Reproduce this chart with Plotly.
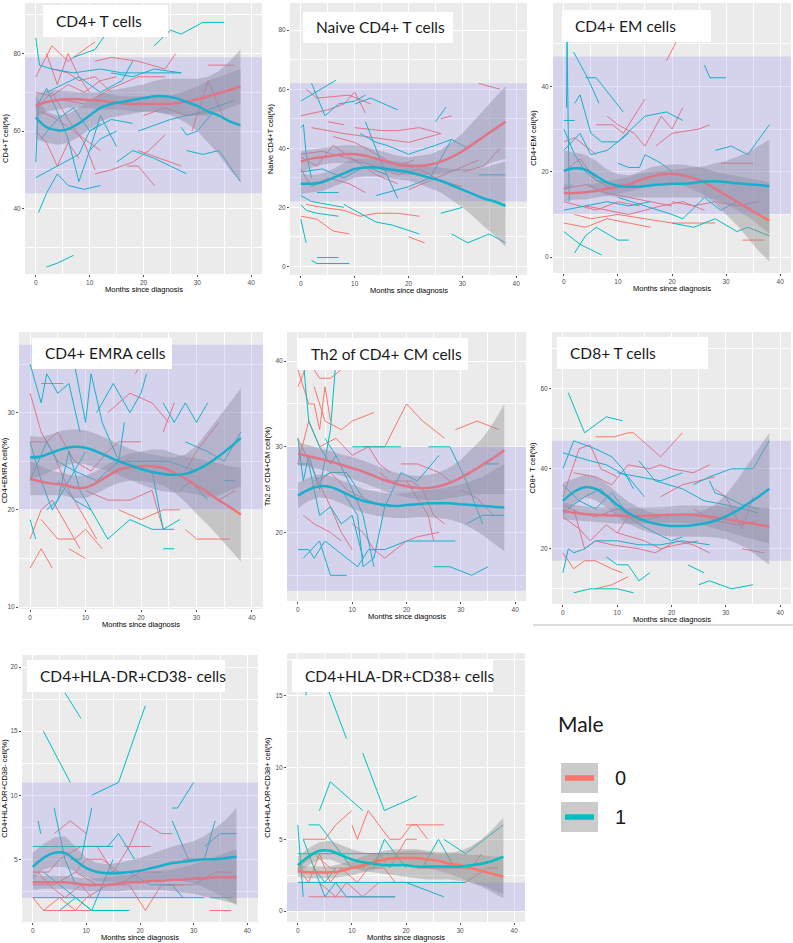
import plotly.graph_objects as go

RED = "#F8766D"
TEAL = "#00BFC4"
W, H = 793, 943

# months used for the smoothed (loess) curves
months_fit = [0, 2, 4, 6, 8, 10, 12, 14, 16, 18, 20, 22, 24, 26, 28, 30, 32, 34, 36, 38]

# ---------------- CD4+ T cells ----------------
cd4t_m0 = [
    [[0, 74], [3, 82], [6, 78], [8, 80], [11, 83]],
    [[2, 80], [4, 72], [6, 80], [8, 74], [10, 70]],
    [[11, 78], [14, 79], [19, 78], [24, 76], [26, 80]],
    [[32, 77], [37, 77]],
    [[0, 66], [3, 70], [6, 63], [9, 57], [11, 50]],
    [[11, 49], [14, 50], [18, 52], [21, 55], [24, 59]],
    [[17, 51], [19, 51], [22, 46]],
    [[19, 55], [23, 53], [27, 51]],
    [[29, 60], [32, 73], [35, 63]],
    [[0, 60], [2, 57], [4, 51], [6, 57], [8, 53]],
    [[5, 68], [9, 67], [14, 71], [19, 74], [24, 74]],
    [[1, 65], [4, 63], [7, 60], [9, 58], [12, 55]],
    [[0, 70], [3, 69], [6, 72], [9, 70], [12, 73], [15, 74]],
    [[20, 64], [24, 66], [28, 64], [33, 65]],
    [[3, 76], [6, 75], [8, 73], [11, 74], [14, 70]],
]
cd4t_m1 = [
    [[0, 84], [0.7, 77], [3, 76], [7, 75], [12, 76], [16, 75], [21, 75], [27, 75]],
    [[22, 82], [25, 86], [27, 85], [31, 88], [35, 88]],
    [[7, 79], [11, 81], [13, 85], [15, 88]],
    [[0, 48], [4, 51], [8, 54], [10, 60], [12, 62]],
    [[0.5, 39], [2, 44], [4, 49], [6, 46], [9, 45], [12, 46]],
    [[2, 25], [4, 26], [7, 28]],
    [[0, 52], [0.5, 67], [2, 71], [4, 65], [6, 58], [8, 47], [10, 55], [12, 64], [15, 56]],
    [[15, 52], [18, 55], [22, 53], [28, 49]],
    [[19, 60], [25, 63], [31, 65], [37, 68]],
    [[27, 61], [28, 59], [30, 60], [33, 65]],
    [[28, 55], [31, 54], [34, 55], [38, 47]],
    [[14, 75], [18, 74], [22, 76], [27, 75]],
    [[1, 58], [4, 63], [7, 66], [10, 60], [14, 63], [18, 62]],
    [[2, 70], [5, 72], [8, 74], [12, 70], [16, 73], [18, 78]],
    [[10, 55], [12, 58], [15, 60]],
]
cd4t_fit0 = [66.5, 67.5, 68, 68.2, 68.2, 68, 67.8, 67.5, 67.2, 67, 67, 67, 67, 67.2, 67.6, 68.2, 69, 69.8, 70.6, 71.5]
cd4t_lo0 = [63.5, 65, 65.5, 66, 66, 66, 65.5, 65.5, 65.5, 65, 65, 65, 64.5, 64.5, 64, 64, 64, 65, 66, 67]
cd4t_hi0 = [69.5, 70.5, 70.5, 70.3, 70, 70, 70, 69.5, 69, 69, 69, 69, 69, 69.5, 70.5, 71.5, 73, 74, 75, 76]
cd4t_fit1 = [63.5, 61, 60.2, 60.5, 62, 64, 66, 67, 67.5, 68, 68.5, 69, 69, 68.5, 67.5, 66.5, 65, 64, 62.5, 61.5]
cd4t_lo1 = [58, 57, 56.5, 57, 58.5, 60.5, 62.5, 63.5, 64, 64.5, 65, 65, 64.5, 63.5, 62, 60, 57, 54, 50, 47]
cd4t_hi1 = [69, 65, 64, 64.5, 66, 67.5, 69.5, 70.5, 71, 71.5, 72, 73, 73.5, 73.5, 73.5, 73.5, 74, 75.5, 78, 81]

# ---------------- Naive CD4+ T cells ----------------
naive_m0 = [
    [[0, 51], [5, 53], [8, 55], [10, 59], [12, 52]],
    [[1, 60], [3, 57], [9, 58], [13, 55]],
    [[2, 47], [5, 46], [8, 45], [12, 44], [20, 42], [26, 45]],
    [[5, 49], [8, 48]],
    [[10, 47], [15, 46], [18, 46], [22, 47], [26, 45]],
    [[26, 50], [28, 51]],
    [[33, 62], [37, 60]],
    [[0, 37], [3, 34], [6, 41], [10, 36], [14, 31], [18, 28]],
    [[0, 38], [4, 39], [8, 37], [12, 35], [18, 31], [22, 33], [26, 29], [30, 27]],
    [[0, 33], [2, 27], [5, 30], [9, 28], [12, 25]],
    [[0, 17], [3, 16], [6, 12], [9, 11]],
    [[1, 21], [4, 20], [8, 19], [11, 17], [14, 18], [18, 18], [22, 17]],
    [[20, 10], [23, 8]],
    [[30, 32], [34, 34], [37, 40]],
    [[20, 26], [24, 29], [28, 32], [33, 36]],
    [[6, 44], [10, 42], [14, 38], [18, 34], [21, 36]],
]
naive_m1 = [
    [[0, 56], [6.5, 63]],
    [[2, 62], [4.5, 51], [7, 55], [10, 56], [12, 58]],
    [[10, 55], [13, 57], [18, 53]],
    [[0, 47], [0.5, 48], [1, 38], [2, 30]],
    [[11, 45], [14, 42], [16, 41], [20, 38], [25, 41], [28, 43], [31, 40]],
    [[12, 49], [15, 35], [18, 23]],
    [[25, 49], [27, 54]],
    [[3, 25], [7, 25]],
    [[0, 24], [2, 22], [5, 21], [8, 20]],
    [[0, 21], [1, 19], [3, 18], [7, 17]],
    [[0, 16], [1, 8]],
    [[8, 21], [11, 18], [14, 15], [17, 14], [22, 11]],
    [[2, 2], [3, 1], [9, 1]],
    [[3, 3], [7, 3]],
    [[28, 11], [31, 8], [35, 11], [38, 8]],
    [[26, 18], [28, 19], [30, 20]],
    [[33, 31], [38, 31]],
    [[14, 24], [20, 27], [24, 30], [28, 43]],
    [[0, 32], [4, 33], [8, 30], [12, 34], [16, 31]],
]
naive_fit0 = [35.5, 36.5, 37, 37.5, 38, 38, 37.5, 36.5, 35.5, 34.5, 34, 34, 34.5, 35.5, 37, 39, 41.5, 44, 46.5, 49]
naive_lo0 = [32, 33.5, 34.5, 35, 35, 35, 34.5, 33.5, 32.5, 31.5, 31, 31, 31, 31.5, 32, 32.5, 33, 34, 35.5, 36.5]
naive_hi0 = [39, 39.5, 40, 40.5, 41, 41, 40.5, 39.5, 38.5, 37.5, 37, 37.5, 38, 39.5, 42, 45, 49, 53, 57, 61]
naive_fit1 = [28, 28, 28.5, 30, 31.5, 33, 33.5, 33.5, 33, 32.5, 32, 31, 30, 29, 27.5, 26, 24.5, 23, 22, 20.5]
naive_lo1 = [24.5, 25, 25.5, 27, 28.5, 30, 30.5, 30.5, 30, 29.5, 29, 28, 26.5, 25, 22.5, 20, 17, 13.5, 10.5, 6.5]
naive_hi1 = [31.5, 31, 31.5, 33, 35, 36.5, 36.5, 36.5, 36, 35.5, 35, 34.5, 34, 33.5, 33, 33, 33, 33.5, 34.5, 35.5]

# ---------------- CD4+ EM cells ----------------
em_m0 = [
    [[19, 46], [21, 51]],
    [[0, 27], [2, 28], [4, 26], [6, 24]],
    [[6, 31], [9, 31], [11, 29], [13, 33], [15, 37]],
    [[8, 33], [10, 31], [13, 29], [15, 26], [18, 33], [20, 30], [22, 35]],
    [[17, 26], [20, 29], [25, 30], [27, 31]],
    [[29, 22], [35, 22]],
    [[0, 16], [4, 17], [8, 15], [12, 14], [16, 13], [20, 12]],
    [[0, 8], [4, 7], [8, 9], [12, 8], [16, 7]],
    [[2, 10], [5, 9], [10, 10], [15, 9], [20, 8], [25, 8], [28, 8]],
    [[0, 13], [3, 12], [6, 11], [10, 13], [14, 12]],
    [[33, 4], [37, 4]],
    [[20, 13], [24, 12], [28, 13], [32, 12], [36, 13]],
    [[0, 20], [3, 23], [6, 18], [9, 16], [13, 17]],
    [[4, 12], [8, 11], [12, 10], [18, 12], [22, 13], [26, 11]],
]
em_m1 = [
    [[0.5, 35], [0.6, 51], [1, 13]],
    [[1.8, 48], [4.4, 42], [6.5, 36]],
    [[4, 42], [6, 42], [11, 34]],
    [[0, 32], [2, 32]],
    [[2, 36], [3, 38], [5, 29], [7, 27], [10, 27], [15, 33], [19, 34], [22, 32]],
    [[26, 45], [27, 42], [30, 42]],
    [[28, 25], [31, 26], [34, 24], [38, 31]],
    [[0, 30], [2, 24], [4, 20], [6, 18], [9, 17]],
    [[10, 22], [12, 21], [14, 21], [15, 24], [18, 22], [20, 20]],
    [[0, 6], [3, 3], [7, 0.5]],
    [[2, 1], [4, 5], [6, 7], [10, 4], [12, 4]],
    [[0, 11], [4, 12], [8, 13], [12, 12], [16, 13]],
    [[10, 14], [15, 12], [20, 10], [22, 9], [26, 14], [29, 11], [32, 13]],
    [[20, 8], [24, 7], [28, 9], [32, 6], [34, 7], [38, 5]],
    [[0, 25], [3, 29], [5, 24], [8, 25], [12, 29]],
]
em_fit0 = [15, 15, 15.2, 15.5, 16, 16.5, 17, 18, 18.8, 19.4, 19.5, 19.2, 18.5, 17.5, 16, 14.5, 13, 11.5, 10, 8.5]
em_lo0 = [13, 13.5, 13.5, 14, 14.3, 14.8, 15.3, 16, 16.8, 17.3, 17.3, 16.8, 15.8, 14.5, 12.5, 10, 7.5, 4.5, 1.5, -1]
em_hi0 = [17, 17, 17, 17.3, 17.8, 18.2, 18.8, 20, 21, 21.5, 21.7, 21.7, 21.3, 20.8, 20, 19.5, 19, 18.5, 18, 17.5]
em_fit1 = [20.2, 20.8, 20.5, 19, 17.5, 16.7, 16.5, 16.5, 16.8, 17, 17.2, 17.2, 17.4, 17.7, 17.8, 17.6, 17.3, 17.1, 16.9, 16.6]
em_lo1 = [15.5, 17, 17, 15.5, 14.5, 14, 14, 14, 14, 14, 14, 14, 14, 14, 13.5, 12.5, 11, 9.5, 7.5, 5.5]
em_hi1 = [25, 24.5, 24, 22.5, 20.5, 19.5, 19.2, 19.5, 20, 20.2, 20.5, 20.8, 21, 21.3, 22, 22.5, 23.5, 24.5, 26, 27.5]

# ---------------- CD4+ EMRA cells ----------------
emra_m0 = [
    [[0, 32], [2, 28], [4, 26], [7, 22], [9, 20], [12, 17]],
    [[2, 33], [6, 33]],
    [[19, 34], [21, 36]],
    [[0, 27], [3, 27], [5, 28], [8, 25], [11, 24], [14, 26], [16, 27], [20, 27]],
    [[14, 30], [18, 32], [22, 31], [25, 29]],
    [[24, 28], [26, 31]],
    [[28, 24], [30, 26], [34, 29]],
    [[0, 17], [2, 20], [4, 21], [7, 18], [9, 16]],
    [[0, 14], [2, 16], [4, 14]],
    [[2, 19], [5, 17], [8, 17], [10, 18], [13, 16]],
    [[7, 16], [10, 15]],
    [[16, 20], [20, 19], [24, 20], [27, 20]],
    [[28, 18], [30, 17], [34, 17], [36, 17]],
    [[34, 21], [37, 22]],
    [[10, 22], [14, 21], [18, 21], [22, 22], [24, 18]],
]
emra_m1 = [
    [[0, 35], [2, 31], [3, 34], [5, 32], [7, 33], [9, 28]],
    [[8, 35], [10, 29], [11, 34], [13, 29], [16, 25], [17, 29]],
    [[12, 30], [15, 33], [18, 30], [20, 32], [21, 34]],
    [[24, 31], [26, 29], [28, 31], [30, 29], [32, 31]],
    [[28, 27], [32, 26], [35, 25], [38, 28]],
    [[35, 23], [37, 23]],
    [[0, 27], [2, 23], [4, 20], [6, 22], [8, 24], [10, 26]],
    [[0, 19], [1, 17]],
    [[5, 23], [8, 21], [11, 20], [14, 17], [16, 18], [18, 19], [22, 18], [26, 18]],
    [[22, 24], [24, 18], [27, 19]],
    [[24, 16], [26, 16]],
    [[0, 23], [3, 27], [5, 25], [8, 24], [12, 23], [16, 25], [20, 25], [25, 25], [30, 24]],
    [[27, 22], [29, 23], [32, 21]],
    [[3, 20], [5, 21], [7, 26], [9, 22], [11, 20]],
]
emra_fit0 = [23.2, 22.9, 22.7, 22.6, 22.3, 22.3, 22.8, 23.5, 24.1, 24.4, 24.5, 24.5, 24.3, 23.8, 23.2, 22.5, 21.8, 21, 20.3, 19.5]
emra_lo0 = [21.5, 21.5, 21.5, 21.5, 21.2, 21.2, 21.7, 22.3, 22.8, 23, 23, 22.8, 22.5, 21.8, 20.8, 19.6, 18.5, 17.2, 16, 14.7]
emra_hi0 = [25, 24.5, 24, 23.8, 23.5, 23.5, 24, 24.7, 25.4, 25.8, 26, 26.2, 26.2, 25.8, 25.5, 25.3, 25, 24.8, 24.5, 24.3]
emra_fit1 = [25.4, 25.5, 25.9, 26.3, 26.5, 26.4, 26, 25.5, 25, 24.6, 24.2, 23.9, 23.7, 23.6, 23.7, 24.1, 24.7, 25.5, 26.4, 27.4]
emra_lo1 = [23.2, 23.5, 24, 24.5, 24.8, 24.7, 24.3, 24, 23.5, 23.1, 22.6, 22.2, 21.9, 21.8, 21.8, 21.6, 21.3, 21.5, 22, 22.4]
emra_hi1 = [27.6, 27.5, 27.8, 28.2, 28.3, 28.2, 27.8, 27.3, 26.8, 26.3, 25.9, 25.7, 25.5, 25.4, 25.7, 26.6, 28, 29.5, 31, 32.5]

# ---------------- Th2 of CD4+ CM cells ----------------
th2_m0 = [
    [[0, 39], [1, 37], [2, 35], [3, 35], [4, 32], [5, 37], [6, 33]],
    [[0, 37], [2, 40], [4, 38], [6, 38], [8, 39]],
    [[3, 37], [5, 33], [8, 32], [10, 33], [14, 34]],
    [[0, 28], [2, 33], [4, 30], [7, 31], [10, 29], [13, 30], [15, 28], [17, 27]],
    [[12, 30], [14, 30], [16, 30], [20, 35], [23, 33], [27, 31]],
    [[29, 32], [33, 33], [37, 32]],
    [[19, 28], [22, 28], [26, 27], [28, 26]],
    [[0, 31], [3, 27], [6, 23], [8, 20], [10, 18]],
    [[1, 22], [3, 21], [6, 20], [8, 19]],
    [[10, 21], [12, 20], [14, 18], [16, 17], [18, 18], [20, 19], [22, 19.5], [26, 20]],
    [[15, 27], [17, 26], [21, 26], [23, 25], [25, 22], [27, 21]],
    [[20, 26], [22, 24], [24, 22], [25, 19]],
    [[30, 25], [33, 24], [36, 22]],
    [[2, 25], [4, 26], [6, 27], [9, 25], [12, 24]],
]
th2_m1 = [
    [[0, 31], [1, 26], [2, 29], [4, 25], [6, 32], [7, 40]],
    [[1, 40], [2, 33], [4, 30], [6, 28], [7, 29]],
    [[0, 28], [2, 28], [4, 22], [6, 23], [8, 21], [10, 22], [12, 17]],
    [[0, 18], [2, 18], [3, 17], [5, 19], [7, 18], [9, 17], [11, 16], [13, 18], [16, 18], [20, 19], [26, 19], [29, 19]],
    [[1, 17], [4, 19], [6, 15], [9, 15]],
    [[25, 16], [28, 16], [32, 15], [35, 16]],
    [[24, 30], [28, 30], [31, 26], [34, 21]],
    [[10, 30], [14, 30], [19, 30]],
    [[8, 25], [11, 22], [12, 16], [14, 17], [16, 23], [19, 27], [22, 26], [26, 29]],
    [[31, 21], [34, 22], [38, 22]],
    [[34, 28], [37, 28]],
    [[3, 26], [6, 27], [9, 27], [12, 24], [16, 23]],
    [[5, 31], [7, 29], [10, 25], [12, 22], [14, 16]],
]
th2_fit0 = [29.2, 28.9, 28.6, 28.3, 27.9, 27.5, 27.1, 26.6, 26.1, 25.7, 25.4, 25.2, 25.2, 25.4, 25.8, 26.4, 27.1, 27.9, 28.7, 29.6]
th2_lo0 = [27.8, 27.7, 27.4, 27, 26.6, 26.2, 25.8, 25.3, 24.8, 24.4, 24.1, 23.9, 23.8, 23.8, 24, 24.2, 24.4, 24.5, 24.5, 24.5]
th2_hi0 = [30.5, 30.2, 29.8, 29.5, 29.1, 28.8, 28.4, 27.9, 27.4, 27, 26.7, 26.6, 26.7, 27, 27.6, 28.5, 29.7, 31, 32.8, 35]
th2_fit1 = [24.3, 25, 25.4, 25.3, 24.8, 24.2, 23.7, 23.4, 23.2, 23.1, 23.2, 23.3, 23.4, 23.4, 23.4, 23.3, 23.2, 23.1, 23, 22.9]
th2_lo1 = [22.8, 23.7, 24.1, 23.9, 23.4, 22.8, 22.3, 22, 21.8, 21.7, 21.7, 21.8, 21.8, 21.7, 21.5, 21.1, 20.5, 19.7, 18.8, 17.8]
th2_hi1 = [25.8, 26.4, 26.8, 26.6, 26.1, 25.6, 25.1, 24.8, 24.6, 24.5, 24.6, 24.8, 25, 25.1, 25.3, 25.6, 26, 26.5, 27.2, 28]

# ---------------- CD8+ T cells ----------------
cd8_m0 = [
    [[6, 48], [9.5, 48], [12, 49], [13, 49], [18, 43], [22, 49]],
    [[0, 33], [3, 45], [5, 46], [7, 40], [10, 38]],
    [[2, 39], [6, 38], [9, 36], [12, 41], [16, 40], [18, 41], [20, 40], [24, 39], [27, 41]],
    [[18, 33], [22, 36], [25, 37], [28, 38]],
    [[28, 35], [30, 33], [33, 25], [35, 33]],
    [[0, 19], [2, 15], [4, 17], [6, 17], [9, 15], [11, 14]],
    [[6, 10], [9, 11], [12, 13]],
    [[0, 28], [3, 25], [5, 22], [8, 26], [10, 24], [12, 28]],
    [[2, 30], [4, 20], [6, 22], [9, 21], [14, 20], [17, 19], [21, 22], [24, 21], [27, 19]],
    [[33, 20], [37, 19]],
    [[10, 24], [15, 22], [18, 20], [21, 21], [25, 22]],
    [[0, 31], [3, 29], [6, 28], [10, 30], [14, 27], [18, 28]],
    [[24, 30], [28, 27], [32, 26], [36, 27]],
]
cd8_m1 = [
    [[1, 59], [4, 49], [8, 53], [11, 52]],
    [[0, 40], [2, 47], [6, 45], [9, 43], [11, 40], [13, 35]],
    [[0, 44], [5, 42], [8, 41], [12, 38], [15, 33]],
    [[14, 42], [17, 37], [22, 35], [26, 32], [30, 31], [36, 29]],
    [[10, 39], [14, 38], [18, 37], [22, 39]],
    [[0, 36], [3, 32], [6, 30], [9, 34], [13, 27], [17, 24], [20, 22], [22, 23]],
    [[24, 36], [27, 38], [31, 40], [35, 40], [38, 47]],
    [[27, 37], [28, 34], [30, 33], [33, 31], [36, 30]],
    [[0, 14], [1, 20], [2, 19], [4, 20], [6, 22], [10, 22], [14, 21], [18, 21], [22, 22], [27, 21]],
    [[8, 18], [10, 16], [12, 16], [14, 12], [16, 14]],
    [[2, 9], [5, 10], [10, 10], [13, 9]],
    [[23, 16], [26, 14]],
    [[25, 11], [27, 12], [31, 10], [35, 11]],
    [[1, 30], [4, 33], [7, 35], [10, 30]],
]
cd8_fit0 = [29.5, 29, 28.7, 28.5, 28.4, 28.3, 28.2, 28.2, 28.3, 28.4, 28.5, 28.6, 28.5, 28.2, 27.8, 27.4, 27, 26.5, 26, 25.5]
cd8_lo0 = [27.3, 27.1, 26.8, 26.6, 26.5, 26.3, 26.2, 26.2, 26.3, 26.4, 26.5, 26.5, 26.3, 25.8, 25.1, 24.3, 23.5, 22.7, 22, 21.3]
cd8_hi0 = [31.7, 31, 30.6, 30.4, 30.3, 30.2, 30.2, 30.2, 30.3, 30.4, 30.6, 30.8, 30.8, 30.7, 30.6, 30.6, 30.6, 30.5, 30.3, 30.2]
cd8_fit1 = [32, 34.2, 35.4, 35, 33.3, 31, 29, 27.6, 26.6, 26, 25.7, 25.7, 25.9, 26.3, 27, 28.1, 29.5, 31.2, 33, 35]
cd8_lo1 = [28, 31.2, 32.8, 32.2, 30.3, 28, 26.3, 25, 24, 23.4, 23.1, 23, 23, 23, 22.8, 22.4, 21.4, 20, 18, 16]
cd8_hi1 = [36.5, 37.5, 38.5, 38, 36.3, 34, 31.8, 30.3, 29.2, 28.6, 28.4, 28.4, 28.8, 29.6, 31, 33.5, 37, 41, 45, 49]

# ---------------- CD4+HLA-DR+CD38- cells ----------------
neg_m0 = [
    [[4, 7], [7, 8], [10, 7]],
    [[0, 4], [3, 4], [5, 5], [9, 6], [12, 6], [15, 4], [18, 6], [20, 8], [24, 7], [26, 7]],
    [[17, 6], [22, 6]],
    [[0, 2], [2, 1], [5, 2], [8, 1], [10, 2], [14, 3], [18, 3], [21, 1], [24, 3], [28, 3]],
    [[2, 1], [6, 1], [11, 1], [16, 1], [18, 1]],
    [[33, 1], [37, 1]],
    [[0, 3], [4, 3], [8, 4], [12, 3], [16, 3], [20, 4], [24, 4]],
    [[1, 4], [3, 3], [6, 2], [9, 3], [11, 2]],
    [[28, 5], [32, 5], [35, 5]],
    [[8, 4], [10, 5], [13, 5], [16, 4]],
    [[25, 3], [30, 3], [34, 4], [37, 4]],
]
neg_m1 = [
    [[2, 15], [7, 11]],
    [[6, 18], [9, 16]],
    [[11, 10], [16, 11], [21, 17]],
    [[26, 9], [27, 9], [30, 11]],
    [[1, 8], [1.5, 7]],
    [[4, 9], [6, 5], [8, 3]],
    [[0, 6], [5, 6], [10, 6], [15, 6]],
    [[7, 5], [9, 5], [11, 9]],
    [[11, 6], [14, 6], [16, 7], [19, 5]],
    [[26, 8], [29, 5], [32, 5], [34, 8]],
    [[32, 6], [35, 7], [38, 7]],
    [[0, 2], [5, 2], [10, 2], [20, 2], [28, 2], [32, 2]],
    [[33, 2], [37, 2]],
    [[2, 4], [5, 3], [8, 2], [11, 1], [13, 3], [15, 5]],
    [[14, 4], [18, 4], [22, 3], [26, 3], [28, 2]],
    [[5, 1], [8, 2], [11, 1], [15, 1], [18, 1]],
]
neg_fit0 = [3.2, 3.2, 3.2, 3.2, 3.1, 3, 3, 3, 3.1, 3.2, 3.2, 3.3, 3.3, 3.4, 3.4, 3.5, 3.5, 3.6, 3.6, 3.6]
neg_lo0 = [2.6, 2.7, 2.7, 2.7, 2.6, 2.5, 2.5, 2.5, 2.5, 2.6, 2.6, 2.6, 2.6, 2.5, 2.4, 2.3, 2.1, 1.9, 1.7, 1.5]
neg_hi0 = [3.8, 3.7, 3.7, 3.7, 3.6, 3.5, 3.5, 3.6, 3.7, 3.8, 3.9, 4, 4.1, 4.2, 4.4, 4.6, 4.9, 5.2, 5.5, 5.8]
neg_fit1 = [4.4, 5.1, 5.5, 5.5, 4.9, 4.3, 4, 3.9, 3.9, 4, 4.1, 4.3, 4.5, 4.7, 4.8, 4.9, 5, 5, 5.1, 5.2]
neg_lo1 = [3.4, 4.2, 4.4, 4.4, 4, 3.6, 3.3, 3.2, 3.2, 3.2, 3.2, 3.3, 3.4, 3.4, 3.3, 3.1, 2.8, 2.4, 1.9, 1.4]
neg_hi1 = [5.5, 6.2, 6.7, 6.8, 6, 5.1, 4.7, 4.6, 4.7, 4.9, 5.1, 5.4, 5.7, 6, 6.2, 6.4, 6.8, 7.4, 8.1, 9]

# ---------------- CD4+HLA-DR+CD38+ cells ----------------
pos_m0 = [
    [[1, 5], [3, 5], [5, 5], [7, 6], [10, 7]],
    [[10, 6], [11, 5], [13, 7], [17, 5], [19, 5], [21, 6], [27, 6]],
    [[20, 6], [22, 6], [24, 5]],
    [[0, 3], [3, 4], [6, 3], [9, 3], [12, 3], [16, 4], [20, 4], [25, 4]],
    [[2, 1], [6, 1], [10, 1], [14, 1], [18, 1]],
    [[0, 3], [2, 2], [4, 4], [6, 2], [8, 3], [11, 2], [13, 3], [16, 3], [18, 2], [21, 2]],
    [[22, 3], [27, 3], [32, 3], [34, 4]],
    [[28, 2], [31, 2], [35, 3], [37, 3]],
    [[4, 2], [7, 1], [9, 2], [12, 1], [15, 2]],
    [[13, 4], [15, 4], [17, 3], [20, 5], [22, 5]],
]
pos_m1 = [
    [[1.5, 15], [1.8, 16.5]],
    [[5, 16], [9, 12]],
    [[4, 7], [6, 9], [12, 7]],
    [[12, 11], [16, 7], [22, 8]],
    [[0, 6], [1, 1]],
    [[2, 6], [4, 6], [6, 5], [8, 4], [10, 3]],
    [[0, 4], [3, 4], [6, 4], [10, 4], [15, 4], [18, 4]],
    [[0, 2], [5, 2], [10, 2], [16, 2], [20, 2], [25, 2], [31, 2]],
    [[3, 3], [5, 1], [7, 2], [9, 1], [12, 1], [18, 1]],
    [[14, 3], [16, 5], [18, 4], [20, 3]],
    [[16, 2], [20, 2], [27, 1]],
    [[27, 5], [31, 4], [38, 6]],
    [[23, 3], [26, 5], [29, 3]],
    [[1, 5], [3, 3], [5, 2], [7, 3]],
]
pos_fit0 = [2.8, 2.7, 2.7, 2.7, 2.8, 3, 3.2, 3.4, 3.6, 3.7, 3.7, 3.7, 3.6, 3.5, 3.3, 3.2, 3, 2.8, 2.6, 2.4]
pos_lo0 = [2.4, 2.3, 2.3, 2.3, 2.4, 2.5, 2.7, 2.9, 3.1, 3.2, 3.2, 3.1, 3, 2.8, 2.6, 2.3, 2, 1.7, 1.3, 0.9]
pos_hi0 = [3.2, 3.1, 3.1, 3.1, 3.3, 3.5, 3.8, 4, 4.2, 4.3, 4.3, 4.3, 4.2, 4.1, 4.1, 4, 3.9, 3.9, 3.8, 3.8]
pos_fit1 = [3.2, 3.8, 4.2, 4.2, 3.9, 3.6, 3.4, 3.3, 3.2, 3.2, 3.2, 3.1, 3.1, 3.1, 3.1, 3.1, 3.2, 3.3, 3.5, 3.8]
pos_lo1 = [2.6, 3.2, 3.6, 3.6, 3.3, 3, 2.8, 2.7, 2.6, 2.5, 2.4, 2.3, 2.2, 2.2, 2.2, 2.1, 2, 1.8, 1.5, 1.2]
pos_hi1 = [3.8, 4.4, 4.8, 4.9, 4.6, 4.3, 4.1, 4, 4, 4.1, 4.2, 4.2, 4.1, 4, 4, 4.2, 4.5, 5, 5.7, 6.5]

# reference ranges (shaded bands)
ref_bands = [(44, 79), (22, 62), (10, 47), (20, 37), (13.2, 30), (17, 47), (2, 11), (0, 2)]

panels = [
    dict(title="CD4+ T cells", ytitle="CD4+T cell(%)", m0=cd4t_m0, m1=cd4t_m1,
         f0=(cd4t_fit0, cd4t_lo0, cd4t_hi0), f1=(cd4t_fit1, cd4t_lo1, cd4t_hi1),
         box=(25, 262, 3, 274), yr=[23.2, 93], dt=20, tbox=(43, 168, 5, 37), xt=289),
    dict(title="Naive CD4+ T cells", ytitle="Naive CD4+T cell(%)", m0=naive_m0, m1=naive_m1,
         f0=(naive_fit0, naive_lo0, naive_hi0), f1=(naive_fit1, naive_lo1, naive_hi1),
         box=(290, 527, 3, 275), yr=[-2.9, 89.2], dt=20, tbox=(303, 453, 12, 43), xt=290),
    dict(title="CD4+ EM cells", ytitle="CD4+EM cell(%)", m0=em_m0, m1=em_m1,
         f0=(em_fit0, em_lo0, em_hi0), f1=(em_fit1, em_lo1, em_hi1),
         box=(553, 791, 3, 273), yr=[-3.7, 59.5], dt=20, tbox=(562, 711, 10, 42), xt=288),
    dict(title="CD4+ EMRA cells", ytitle="CD4+EMRA cell(%)", m0=emra_m0, m1=emra_m1,
         f0=(emra_fit0, emra_lo0, emra_hi0), f1=(emra_fit1, emra_lo1, emra_hi1),
         box=(19, 263, 332, 609), yr=[9.8, 38.3], dt=10, tbox=(32, 172, 338, 369), xt=624),
    dict(title="Th2 of CD4+ CM cells", ytitle="Th2 of CD4+CM cell(%)", m0=th2_m0, m1=th2_m1,
         f0=(th2_fit0, th2_lo0, th2_hi0), f1=(th2_fit1, th2_lo1, th2_hi1),
         box=(287, 526, 332, 601), yr=[12.0, 43.4], dt=10, tbox=(298, 468, 338, 370), xt=616),
    dict(title="CD8+ T cells", ytitle="CD8+ T cell(%)", m0=cd8_m0, m1=cd8_m1,
         f0=(cd8_fit0, cd8_lo0, cd8_hi0), f1=(cd8_fit1, cd8_lo1, cd8_hi1),
         box=(552, 791, 332, 604), yr=[6.2, 74.2], dt=20, tbox=(557, 708, 337, 369), xt=619),
    dict(title="CD4+HLA-DR+CD38- cells", ytitle="CD4+HLA-DR+CD38- cell(%)", m0=neg_m0, m1=neg_m1,
         f0=(neg_fit0, neg_lo0, neg_hi0), f1=(neg_fit1, neg_lo1, neg_hi1),
         box=(22, 258, 655, 922), yr=[0.1, 20.95], dt=5, tbox=(27, 225, 660, 692), xt=937),
    dict(title="CD4+HLA-DR+CD38+ cells", ytitle="CD4+HLA-DR+CD38+ cell(%)", m0=pos_m0, m1=pos_m1,
         f0=(pos_fit0, pos_lo0, pos_hi0), f1=(pos_fit1, pos_lo1, pos_hi1),
         box=(287, 525, 653, 922), yr=[-0.75, 17.95], dt=5, tbox=(292, 493, 660, 692), xt=937),
]


def px(x):
    return x / W


def py(y):
    return 1 - y / H


fig = go.Figure()
shapes, annos = [], []
tick_font = dict(family="Liberation Sans", size=6.5, color="#4D4D4D")
ttl_font = dict(family="Liberation Sans", size=7.5, color="#000000")

for i, p in enumerate(panels, start=1):
    sfx = "" if i == 1 else str(i)
    xa, ya = "x" + sfx, "y" + sfx
    # individual patients
    for lines, col in ((p["m0"], RED), (p["m1"], TEAL)):
        for ln in lines:
            fig.add_trace(go.Scatter(x=[q[0] for q in ln], y=[q[1] for q in ln], mode="lines",
                                     line=dict(color=col, width=1), xaxis=xa, yaxis=ya,
                                     showlegend=False, hoverinfo="skip"))
    # confidence ribbons
    for fit, lo, hi in (p["f0"], p["f1"]):
        fig.add_trace(go.Scatter(x=months_fit + months_fit[::-1], y=hi + lo[::-1], mode="lines",
                                 fill="toself", fillcolor="rgba(150,150,150,0.45)",
                                 line=dict(width=0), xaxis=xa, yaxis=ya,
                                 showlegend=False, hoverinfo="skip"))
    # smoothed means
    for (fit, lo, hi), col in ((p["f0"], RED), (p["f1"], TEAL)):
        fig.add_trace(go.Scatter(x=months_fit, y=fit, mode="lines",
                                 line=dict(color=col, width=2.5, shape="spline"),
                                 xaxis=xa, yaxis=ya, showlegend=False, hoverinfo="skip"))

    l, r, t, b = p["box"]
    fig.update_layout(**{
        "xaxis" + sfx: dict(domain=[px(l), px(r)], range=[-2, 42], anchor=ya,
                            tickvals=[0, 10, 20, 30, 40], showgrid=True, gridcolor="white",
                            gridwidth=1, zeroline=False, ticks="outside", ticklen=2,
                            tickcolor="#4D4D4D", tickfont=tick_font,
                            minor=dict(dtick=5, tick0=0, showgrid=True, gridcolor="white", gridwidth=0.5),
                            automargin=False),
        "yaxis" + sfx: dict(domain=[py(b), py(t)], range=p["yr"], anchor=xa,
                            dtick=p["dt"], tick0=0, showgrid=True, gridcolor="white",
                            gridwidth=1, zeroline=False, ticks="outside", ticklen=2,
                            tickcolor="#4D4D4D", tickfont=tick_font,
                            minor=dict(dtick=p["dt"] / 2, tick0=0, showgrid=True, gridcolor="white", gridwidth=0.5),
                            title=dict(text=p["ytitle"], font=ttl_font, standoff=3),
                            automargin=False),
    })
    annos.append(dict(text="Months since diagnosis", xref="paper", yref="paper",
                      x=px((l + r) / 2), y=py(p["xt"]), xanchor="center", yanchor="middle",
                      showarrow=False, font=ttl_font))
    lo_b, hi_b = ref_bands[i - 1]
    shapes.append(dict(type="rect", xref=xa + " domain", yref=ya, x0=0, x1=1, y0=lo_b, y1=hi_b,
                       fillcolor="rgba(125,115,240,0.2)", line=dict(width=0), layer="above"))
    tl, tr, tt, tb = p["tbox"]
    shapes.append(dict(type="rect", xref="paper", yref="paper", x0=px(tl), x1=px(tr),
                       y0=py(tb), y1=py(tt), fillcolor="white", line=dict(width=0), layer="above"))
    annos.append(dict(text=p["title"], xref="paper", yref="paper", x=px(tl + 11), y=py((tt + tb) / 2),
                      xanchor="left", yanchor="middle", showarrow=False,
                      font=dict(family="Lato", size=15.5, color="#1a1a1a")))

# legend drawn by hand
annos.append(dict(text="Male", xref="paper", yref="paper", x=px(556), y=py(723), xanchor="left",
                  yanchor="middle", showarrow=False, font=dict(family="Lato", size=21, color="#1a1a1a")))
for lab, col, yc in (("0", RED, 778), ("1", TEAL, 817)):
    shapes.append(dict(type="rect", xref="paper", yref="paper", x0=px(561), x1=px(598),
                       y0=py(yc + 15), y1=py(yc - 15), fillcolor="#CBCBCB", line=dict(width=0)))
    shapes.append(dict(type="line", xref="paper", yref="paper", x0=px(565), x1=px(594),
                       y0=py(yc), y1=py(yc), line=dict(color=col, width=5.5)))
    annos.append(dict(text=lab, xref="paper", yref="paper", x=px(613), y=py(yc), xanchor="left",
                      yanchor="middle", showarrow=False,
                      font=dict(family="Liberation Sans", size=20, color="#1a1a1a")))
shapes.append(dict(type="line", xref="paper", yref="paper", x0=px(533), x1=1, y0=py(625), y1=py(625),
                   line=dict(color="#BBBBBB", width=1)))

fig.update_layout(width=W, height=H, margin=dict(l=0, r=0, t=0, b=0),
                  paper_bgcolor="white", plot_bgcolor="#EBEBEB",
                  shapes=shapes, annotations=annos, showlegend=False)

fig.write_html("out.html", config={"displayModeBar": False},
               post_script="document.body.style.margin='0';")
